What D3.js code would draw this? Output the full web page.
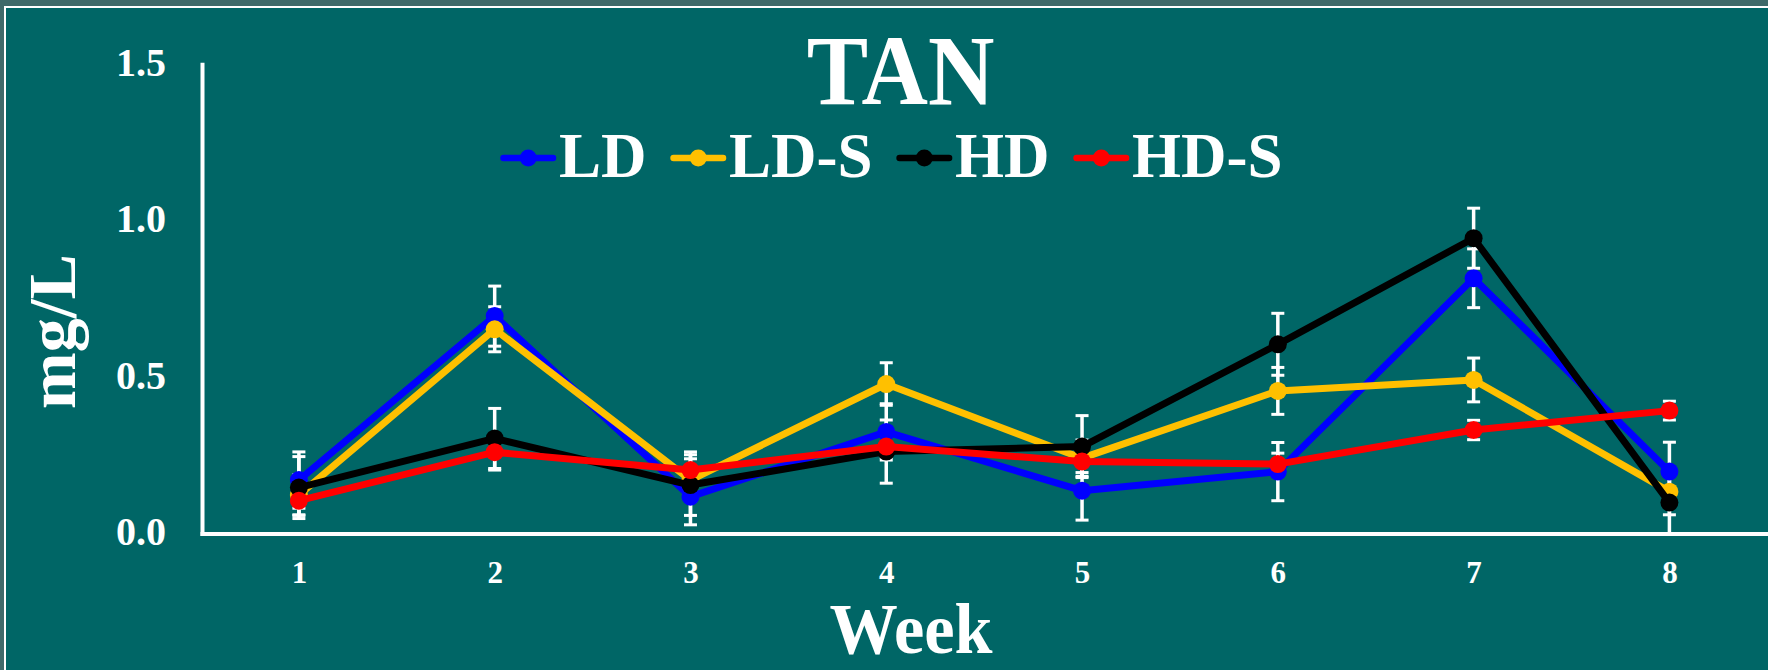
<!DOCTYPE html>
<html>
<head>
<meta charset="utf-8">
<script src="https://cdn.jsdelivr.net/npm/d3@7"></script>
<style>
  html, body { margin: 0; padding: 0; background: #3f6a6a; }
  svg { display: block; }
  text { font-family: "Liberation Serif", "Times New Roman", serif; font-weight: bold; fill: #ffffff; }
</style>
</head>
<body>
<svg id="chart" width="1768" height="670"></svg>
<script>
// ---------- data ----------
const weeks = [1, 2, 3, 4, 5, 6, 7, 8];
const seriesNames = ["LD", "LD-S", "HD", "HD-S"];
const seriesColors = ["#0000ff", "#ffc000", "#000000", "#ff0000"];

const LD     = [0.166, 0.690, 0.113, 0.320, 0.132, 0.193, 0.811, 0.193];
const LD_S   = [0.118, 0.648, 0.166, 0.473, 0.236, 0.451, 0.486, 0.129];
const HD     = [0.142, 0.299, 0.150, 0.257, 0.273, 0.600, 0.939, 0.094];
const HD_S   = [0.100, 0.255, 0.198, 0.273, 0.225, 0.217, 0.326, 0.388];

const LD_err   = [0.090, 0.096, 0.090, 0.090, 0.094, 0.093, 0.094, 0.094];
const LD_S_err = [0.065, 0.072, 0.068, 0.068, 0.058, 0.075, 0.070, 0.074];
const HD_err   = [0.099, 0.096, 0.097, 0.101, 0.099, 0.099, 0.096, 0.100];
const HD_S_err = [0.045, 0.057, 0.058, 0.035, 0.035, 0.035, 0.031, 0.030];

const yTicks = [0, 0.5, 1.0, 1.5];
const titleText = "TAN";
const xTitle = "Week";
const yTitle = "mg/L";

const seriesValues = [LD, LD_S, HD, HD_S];
const seriesErrors = [LD_err, LD_S_err, HD_err, HD_S_err];

// ---------- layout ----------
const W = 1768, H = 670;
const svg = d3.select("#chart");

// background + frame
svg.append("rect").attr("x", 0).attr("y", 0).attr("width", W).attr("height", H).attr("fill", "#3f6a6a");
svg.append("rect").attr("x", 5).attr("y", 7).attr("width", W + 20).attr("height", H + 20)
  .attr("fill", "#006666").attr("stroke", "#ffffff").attr("stroke-width", 2);

const plotLeft = 201, plotRight = 1767.3;
const y0px = 532, y1px = 62.7;

const x = d3.scalePoint().domain(weeks).range([plotLeft, plotRight]).padding(0.5);
const y = d3.scaleLinear().domain([0, 1.5]).range([y0px, y1px]);

// axes lines
const axisX = 202.5;
svg.append("line").attr("x1", axisX).attr("x2", axisX)
  .attr("y1", y(1.5)).attr("y2", y(0) + 4)
  .attr("stroke", "#ffffff").attr("stroke-width", 4);
svg.append("line").attr("x1", axisX - 2).attr("x2", W)
  .attr("y1", y(0) + 2).attr("y2", y(0) + 2)
  .attr("stroke", "#ffffff").attr("stroke-width", 4);

// y axis tick labels
const yAxis = d3.axisLeft(y).tickValues(yTicks).tickFormat(d3.format(".1f")).tickSize(0).tickPadding(36.5);
const gy = svg.append("g").attr("transform", `translate(${axisX},0)`).call(yAxis);
gy.select(".domain").remove();
gy.selectAll("text")
  .attr("dy", 12.5)
  .style("font-family", '"Liberation Serif", "Times New Roman", serif')
  .style("font-weight", "bold")
  .style("font-size", "40px")
  .attr("fill", "#ffffff");

// x axis tick labels
const xAxis = d3.axisBottom(x).tickSize(0);
const gx = svg.append("g").attr("transform", `translate(0,${y(0)})`).call(xAxis);
gx.select(".domain").remove();
gx.selectAll("text")
  .attr("y", 51).attr("dy", 0)
  .style("font-family", '"Liberation Serif", "Times New Roman", serif')
  .style("font-weight", "bold")
  .style("font-size", "31px")
  .attr("fill", "#ffffff");

// error bars (behind lines)
const gErr = svg.append("g");
seriesValues.forEach((vals, si) => {
  const errs = seriesErrors[si];
  weeks.forEach((wk, i) => {
    const cx = x(wk);
    const top = y(vals[i] + errs[i]);
    const bot = y(vals[i] - errs[i]);
    gErr.append("line").attr("x1", cx).attr("x2", cx).attr("y1", top).attr("y2", bot)
      .attr("stroke", "#ffffff").attr("stroke-width", 3.5);
    [top, bot].forEach(yy => {
      gErr.append("line").attr("x1", cx - 6.5).attr("x2", cx + 6.5).attr("y1", yy).attr("y2", yy)
        .attr("stroke", "#ffffff").attr("stroke-width", 3);
    });
  });
});

// series lines + markers
const line = d3.line().x(d => x(d.w)).y(d => y(d.v));
seriesValues.forEach((vals, si) => {
  const pts = weeks.map((w, i) => ({ w, v: vals[i] }));
  const g = svg.append("g");
  g.append("path").datum(pts).attr("d", line)
    .attr("fill", "none").attr("stroke", seriesColors[si]).attr("stroke-width", 7)
    .attr("stroke-linejoin", "round");
  g.selectAll("circle").data(pts).enter().append("circle")
    .attr("cx", d => x(d.w)).attr("cy", d => y(d.v)).attr("r", 9)
    .attr("fill", seriesColors[si]);
});

// title
svg.append("text").attr("text-anchor", "middle")
  .attr("transform", "translate(900.6,104) scale(0.93,1)")
  .style("font-size", "99px").text(titleText);

// legend
const legY = 158, legBase = 177;
let lx = 500.5;
seriesNames.forEach((name, si) => {
  const g = svg.append("g");
  g.append("line").attr("x1", lx + 3).attr("x2", lx + 52.5).attr("y1", legY).attr("y2", legY)
    .attr("stroke", seriesColors[si]).attr("stroke-width", 6.5).attr("stroke-linecap", "round");
  g.append("circle").attr("cx", lx + 27.75).attr("cy", legY).attr("r", 8.5).attr("fill", seriesColors[si]);
  const t = g.append("text").attr("x", lx + 58.5).attr("y", legBase).style("font-size", "63px").text(name);
  const len = t.node().getComputedTextLength();
  lx = lx + 58.5 + len + 24;
});

// axis titles
svg.append("text").attr("text-anchor", "middle")
  .attr("transform", "translate(911,653) scale(0.955,1)")
  .style("font-size", "71.5px").text(xTitle);

svg.append("text").attr("text-anchor", "middle")
  .attr("transform", "translate(75,331.5) rotate(-90)")
  .style("font-size", "68px").text(yTitle);
</script>
</body>
</html>
